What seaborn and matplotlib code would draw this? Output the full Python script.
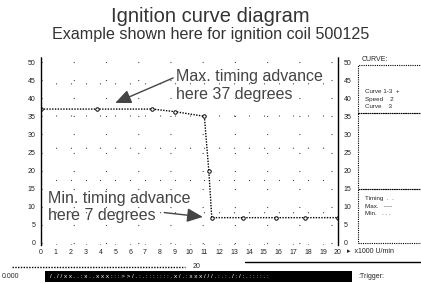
import matplotlib
matplotlib.use("Agg")
import matplotlib.pyplot as plt
import seaborn as sns
import pandas as pd
from matplotlib.patches import Rectangle
from matplotlib.lines import Line2D

# ---- data ----
rpm_units = [0, 3.8, 7.5, 9.0, 11.0, 11.3, 11.5, 13.6, 15.8, 17.8, 20]
advance_deg = [37, 37, 37, 36.3, 35, 20, 7, 7, 7, 7, 7]
x_ticks = list(range(0, 21))
x_tick_labels = [str(v) for v in x_ticks]
y_ticks = list(range(0, 51, 5))
y_tick_labels = [str(v) for v in y_ticks]
title_text = "Ignition curve diagram"
subtitle_text = "Example shown here for ignition coil 500125"
max_note = "Max. timing advance\nhere 37 degrees"
min_note = "Min. timing advance\nhere 7 degrees"
max_point = (5.0, 38.7)
min_point = (10.9, 7.2)
legend_rows_top = ["Curve 1-3  +", "Speed    2", "Curve    3"]
legend_rows_bottom = ["Timing  .  .", "Max.   ----", "Min.   . . ."]

df = pd.DataFrame({"rpm": rpm_units, "advance": advance_deg})

sns.set_theme(style="white")
plt.rcParams['font.family'] = ['Liberation Sans', 'DejaVu Sans']

W, H = 421, 284
fig = plt.figure(figsize=(W / 100, H / 100), dpi=100)

def fx(px):
    return px / W

def fy(py):
    return 1 - py / H

# main axes: x 41..338 px, y 56.6..244.8 px
ax = fig.add_axes([fx(41), fy(244.8), fx(338) - fx(41), fy(56.6) - fy(244.8)])
ax.set_xlim(0, 20)
ax.set_ylim(-0.5, 51.5)

sns.lineplot(data=df, x="rpm", y="advance", ax=ax, sort=False, color="black",
             linestyle=(0, (1, 1)), linewidth=1.0, marker="o", markersize=2.5,
             markerfacecolor="white", markeredgecolor="black", markeredgewidth=0.7)

ax.set_xticks(x_ticks)
ax.set_xticklabels(x_tick_labels, fontsize=5, color="#222222")
ax.set_yticks(y_ticks)
ax.set_yticklabels(y_tick_labels, fontsize=5, color="#222222")
ax.tick_params(axis="both", length=0, pad=3)
ax.tick_params(axis="y", labelright=True, pad=4)
ax.set_xlabel("")
ax.set_ylabel("")

ax.grid(True, linestyle=(0, (1, 28)), color="black", linewidth=0.8, alpha=0.7)

for side in ["top", "bottom"]:
    ax.spines[side].set_visible(False)
for side in ["left", "right"]:
    ax.spines[side].set_visible(True)
    ax.spines[side].set_linestyle((0, (1, 1)))
    ax.spines[side].set_color("black")
    ax.spines[side].set_linewidth(1.0)

arrow_kw = dict(arrowstyle="-|>,head_width=0.35,head_length=0.8", color="#444444",
                lw=1.0, mutation_scale=12, shrinkA=0, shrinkB=0)

# annotations
ax.text(9.1, 43.5, max_note, fontsize=11.5, color="#444444", ha="left",
        va="center", linespacing=1.2)
ax.annotate("", xy=max_point, xytext=(8.9, 45.6), arrowprops=arrow_kw)
ax.text(0.45, 9.9, min_note, fontsize=11.5, color="#444444", ha="left",
        va="center", linespacing=1.2)
ax.annotate("", xy=min_point, xytext=(8.3, 8.4), arrowprops=arrow_kw)

ax.text(20.6, -1.3, "\u25b8  x1000 U/min", fontsize=5, color="#222222",
        ha="left", va="top", transform=ax.transData, clip_on=False)

# titles
fig.text(0.5, fy(17), title_text, ha="center", va="center", fontsize=14.5,
         color="#333333")
fig.text(0.5, fy(34), subtitle_text, ha="center", va="center", fontsize=11.6,
         color="#333333")

# right legend panel
pan = fig.add_axes([fx(357), fy(245), fx(421) - fx(357), fy(57) - fy(245)])
pan.set_xlim(0, 1)
pan.set_ylim(0, 1)
pan.axis("off")
dotted = dict(fill=False, edgecolor="black", linestyle=(0, (1, 1)), linewidth=0.8)
pan.add_patch(Rectangle((0.02, 0.70), 1.1, 0.26, clip_on=False, **dotted))
pan.add_patch(Rectangle((0.02, 0.30), 1.1, 0.40, clip_on=False, **dotted))
pan.add_patch(Rectangle((0.02, 0.01), 1.1, 0.29, clip_on=False, **dotted))
pan.text(0.08, 0.985, "CURVE:", fontsize=5, va="center", ha="left")
for i, row in enumerate(legend_rows_top):
    pan.text(0.12, 0.815 - i * 0.04, row, fontsize=4.5, va="center", ha="left")
for i, row in enumerate(legend_rows_bottom):
    pan.text(0.12, 0.245 - i * 0.04, row, fontsize=4.5, va="center", ha="left")

# bottom strip (status bar of the software)
fig.add_artist(Line2D([fx(12), fx(185)], [fy(267), fy(267)], color="black",
                      linestyle=(0, (1, 1)), linewidth=1.0))
fig.add_artist(Line2D([fx(245), fx(421)], [fy(262), fy(262)], color="black",
                      linewidth=1.0))
fig.text(fx(197), fy(266), "20", fontsize=5, ha="center", va="center")
fig.add_artist(Rectangle((fx(45), fy(282)), fx(352) - fx(45), fy(271) - fy(282),
                         facecolor="black", edgecolor="none"))
fig.text(fx(2), fy(276.5), "0.000", fontsize=5, ha="left", va="center")
fig.text(fx(50), fy(276.5),
         "/ . / / x x . . : x . . x x x : : : > > / . : . : : : : : : : . x / . : x x x / / / . : . : . / : / : . : : : : . :",
         fontsize=4.5, ha="left", va="center", color="white")
fig.text(fx(358), fy(276.5), ":Trigger:", fontsize=5, ha="left", va="center")

fig.savefig("out.png", dpi=100)
